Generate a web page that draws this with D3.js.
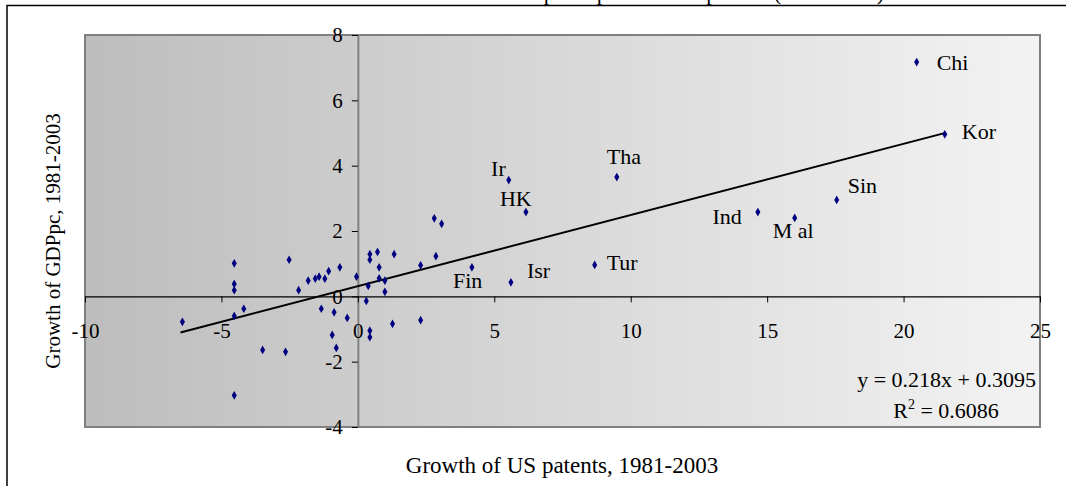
<!DOCTYPE html>
<html>
<head>
<meta charset="utf-8">
<script src="https://cdn.jsdelivr.net/npm/d3@7"></script>
<style>
  body { margin: 0; background: #fff; }
  svg { display: block; font-family: "Liberation Serif", "Times New Roman", serif; }
</style>
</head>
<body>
<svg width="1066" height="486"></svg>
<script>
// data: growth of US patents (x) vs growth of GDP per capita (y), 1981-2003
const patentGrowth = [
  -6.43, -4.53, -4.53, -4.53, -4.53, -4.18, -4.53, -3.49, -2.65, -2.52,
  -2.17, -1.82, -1.56, -1.42, -1.21, -1.07, -0.66, -1.34, -0.87, -0.39,
  -0.94, -0.79, -0.05, 0.44, 0.44, 0.38, 0.31, 0.44, 0.44, 0.72,
  0.78, 0.78, 0.99, 0.99, 1.33, 1.27, 2.30, 2.30, 2.80, 3.07,
  2.86, 4.18, 5.61, 6.16, 5.53, 9.49, 8.68, 14.66, 16.01, 17.55,
  21.51, 20.48
];
const gdpGrowth = [
  -0.78, 1.01, 0.38, 0.19, -0.60, -0.38, -3.03, -1.64, -1.70, 1.12,
  0.19, 0.48, 0.54, 0.60, 0.54, 0.77, 0.89, -0.38, -0.49, -0.66,
  -1.18, -1.58, 0.60, -1.05, -1.25, 0.32, -0.14, 1.29, 1.12, 1.36,
  0.89, 0.55, 0.48, 0.14, 1.29, -0.84, -0.73, 0.95, 2.39, 2.22,
  1.23, 0.89, 0.43, 2.58, 3.56, 3.65, 0.96, 2.58, 2.40, 2.95,
  4.96, 7.17
];
const countryLabels = [
  '', '', '', '', '', '', '', '', '', '',
  '', '', '', '', '', '', '', '', '', '',
  '', '', '', '', '', '', '', '', '', '',
  '', '', '', '', '', '', '', '', '', '',
  '', 'Fin', 'Isr', 'HK', 'Ir', 'Tha', 'Tur', 'Ind', 'M al', 'Sin',
  'Kor', 'Chi'
];
const xTicks = [-10, -5, 0, 5, 10, 15, 20, 25];
const yTicks = [-4, -2, 0, 2, 4, 6, 8];
const trendSlope = 0.218;
const trendIntercept = 0.3095;
const trendRange = [-6.5, 21.5];
const rSquared = 0.6086;

const svg = d3.select('svg');
const plot = { left: 85, top: 35, right: 1040, bottom: 427 };

const data = patentGrowth.map((x, i) => ({ x, y: gdpGrowth[i], label: countryLabels[i] }));

// outer chart frame (title sits above the visible area, as in the original)
svg.append('text')
  .attr('x', 884).attr('y', 0)
  .attr('text-anchor', 'end')
  .style('font-size', '22px')
  .text('Growth of GDP per capita and US patents (1981-2003)');
svg.append('rect')
  .attr('x', 7).attr('y', 5.5)
  .attr('width', 1100).attr('height', 520)
  .attr('fill', 'none')
  .attr('stroke', '#000')
  .attr('stroke-width', 1.5);

// plot area gradient
const grad = svg.append('defs').append('linearGradient')
  .attr('id', 'bg').attr('x1', '0%').attr('x2', '100%').attr('y1', '0%').attr('y2', '0%');
grad.append('stop').attr('offset', '0%').attr('stop-color', '#bdbdbd');
grad.append('stop').attr('offset', '100%').attr('stop-color', '#f3f3f3');

svg.append('rect')
  .attr('x', plot.left).attr('y', plot.top)
  .attr('width', plot.right - plot.left).attr('height', plot.bottom - plot.top)
  .attr('fill', 'url(#bg)')
  .attr('stroke', '#808080')
  .attr('stroke-width', 2);

const xScale = d3.scaleLinear().domain([-10, 25]).range([plot.left, plot.right]);
const yScale = d3.scaleLinear().domain([-4, 8]).range([plot.bottom, plot.top]);
const plainNumber = d => String(d); // hyphen minus like the original

// y axis (gray line, crosses at x = 0)
const yAxisGroup = svg.append('g')
  .attr('transform', `translate(${xScale(0)},0)`)
  .call(d3.axisLeft(yScale).tickValues(yTicks).tickFormat(plainNumber).tickSize(6).tickSizeOuter(0).tickPadding(9));
yAxisGroup.select('path.domain').attr('stroke', '#808080').attr('stroke-width', 2);
yAxisGroup.selectAll('.tick line').attr('stroke', '#000');
yAxisGroup.selectAll('text')
  .attr('fill', '#000')
  .style('font-family', '"Liberation Serif", serif')
  .style('font-size', '21px');

// x axis (black line, crosses at y = 0)
const xAxisGroup = svg.append('g')
  .attr('transform', `translate(0,${yScale(0)})`)
  .call(d3.axisBottom(xScale).tickValues(xTicks).tickFormat(plainNumber).tickSize(6).tickSizeOuter(0).tickPadding(21));
xAxisGroup.select('path.domain').attr('stroke', '#000').attr('stroke-width', 1.2);
xAxisGroup.selectAll('.tick line').attr('stroke', '#000');
xAxisGroup.selectAll('text')
  .attr('fill', '#000')
  .style('font-family', '"Liberation Serif", serif')
  .style('font-size', '21px');

// linear trend line
const trendLine = d3.line()
  .x(d => xScale(d))
  .y(d => yScale(trendSlope * d + trendIntercept));
svg.append('path')
  .attr('d', trendLine(trendRange))
  .attr('fill', 'none')
  .attr('stroke', '#000')
  .attr('stroke-width', 2);

// points
svg.append('g').selectAll('path.point')
  .data(data)
  .enter()
  .append('path')
    .attr('class', 'point')
    .attr('d', d3.symbol(d3.symbolDiamond, 22))
    .attr('transform', d => `translate(${xScale(d.x)},${yScale(d.y)})`)
    .attr('fill', '#000080');

// country labels, nudged around their points like the original
const labelNudge = {
  'Chi': [20, 8, 'start'], 'Kor': [17, 5, 'start'], 'Sin': [11, -7, 'start'],
  'M al': [-22, 20, 'start'], 'Ind': [-16, 12, 'end'], 'Tha': [-10, -13, 'start'],
  'Ir': [-3, -4, 'end'], 'HK': [-26, -6, 'start'], 'Tur': [12, 5, 'start'],
  'Isr': [16, -4, 'start'], 'Fin': [-19, 21, 'start']
};
svg.append('g').selectAll('text.country')
  .data(data.filter(d => d.label))
  .enter()
  .append('text')
    .attr('class', 'country')
    .attr('x', d => xScale(d.x) + labelNudge[d.label][0])
    .attr('y', d => yScale(d.y) + labelNudge[d.label][1])
    .attr('text-anchor', d => labelNudge[d.label][2])
    .style('font-size', '22px')
    .style('white-space', 'pre')
    .text(d => d.label);

// regression annotation
svg.append('text')
  .attr('x', 1036).attr('y', 387)
  .attr('text-anchor', 'end')
  .style('font-size', '22px')
  .text(`y = ${trendSlope}x + ${trendIntercept}`);
const r2 = svg.append('text')
  .attr('x', 946).attr('y', 418)
  .attr('text-anchor', 'middle')
  .style('font-size', '22px');
r2.append('tspan').text('R');
r2.append('tspan').attr('dy', -9).style('font-size', '14px').text('2');
r2.append('tspan').attr('dy', 9).text(` = ${rSquared}`);

// axis titles
svg.append('text')
  .attr('x', 562).attr('y', 473)
  .attr('text-anchor', 'middle')
  .style('font-size', '23px')
  .text('Growth of US patents, 1981-2003');
svg.append('text')
  .attr('transform', `translate(60,241) rotate(-90)`)
  .attr('text-anchor', 'middle')
  .style('font-size', '21px')
  .text('Growth of GDPpc, 1981-2003');
</script>
</body>
</html>
